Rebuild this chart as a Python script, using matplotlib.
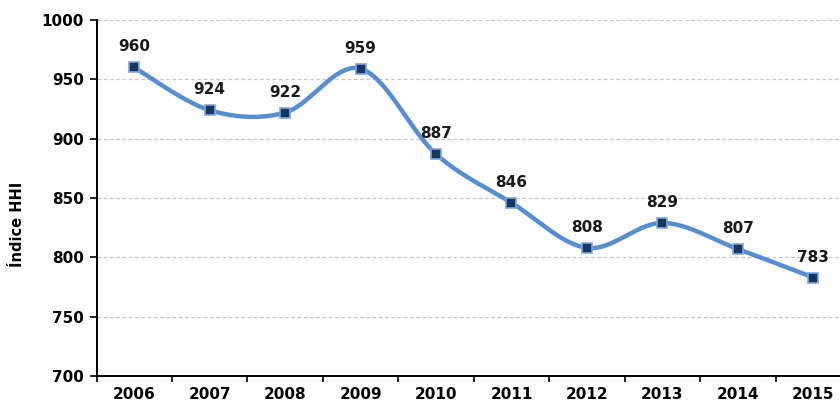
import numpy as np
import matplotlib
matplotlib.use("Agg")
import matplotlib.pyplot as plt
from matplotlib.ticker import FixedLocator, NullFormatter

years = ["2006", "2007", "2008", "2009", "2010", "2011", "2012", "2013", "2014", "2015"]
hhi = [960, 924, 922, 959, 887, 846, 808, 829, 807, 783]
ylabel = "Índice HHI"

def excel_smooth(x, y, n=40):
    x = np.asarray(x, float); y = np.asarray(y, float)
    xs, ys = [], []
    for i in range(len(x) - 1):
        p0 = (x[i-1], y[i-1]) if i > 0 else (x[i], y[i])
        p1 = (x[i], y[i]); p2 = (x[i+1], y[i+1])
        p3 = (x[i+2], y[i+2]) if i + 2 < len(x) else (x[i+1], y[i+1])
        c1 = (p1[0] + (p2[0]-p0[0])/6, p1[1] + (p2[1]-p0[1])/6)
        c2 = (p2[0] - (p3[0]-p1[0])/6, p2[1] - (p3[1]-p1[1])/6)
        t = np.linspace(0, 1, n)
        bx = (1-t)**3*p1[0] + 3*(1-t)**2*t*c1[0] + 3*(1-t)*t**2*c2[0] + t**3*p2[0]
        by = (1-t)**3*p1[1] + 3*(1-t)**2*t*c1[1] + 3*(1-t)*t**2*c2[1] + t**3*p2[1]
        xs.extend(bx); ys.extend(by)
    return np.array(xs), np.array(ys)

fig = plt.figure(figsize=(8.4, 4.04), dpi=100)
W, H = 840, 404
ax = fig.add_axes([96.5/W, 1 - 376/H, (851 - 96.5)/W, (376 - 20)/H])

x = np.arange(len(years))
sx, sy = excel_smooth(x, hhi)
ax.plot(sx, sy, color="#558ED5", lw=3.2, solid_capstyle="round", zorder=3)
ax.plot(x, hhi, ls="none", marker="s", ms=7, mfc="#17375E", mec="#7DA7E0", mew=1.2, zorder=4)

for xi, v in zip(x, hhi):
    ax.annotate(str(v), (xi, v), xytext=(0, 11.5), textcoords="offset points",
                ha="center", va="baseline", fontsize=11, fontweight="bold", color="#1a1a1a")

ax.set_xlim(-0.5, len(years) - 0.5)
ax.set_ylim(700, 1000)
ax.set_yticks(np.arange(700, 1001, 50))
ax.set_xticks(x)
ax.set_xticklabels(years)
ax.xaxis.set_minor_locator(FixedLocator(np.arange(-0.5, len(years), 1)))
ax.xaxis.set_minor_formatter(NullFormatter())
ax.tick_params(axis="x", which="major", length=0, pad=8)
ax.tick_params(axis="x", which="minor", length=4, width=1.2, direction="out")
ax.tick_params(axis="y", length=5, width=1.2, direction="out", pad=4)
for lab in ax.get_xticklabels() + ax.get_yticklabels():
    lab.set_fontsize(11); lab.set_fontweight("bold")

ax.grid(axis="y", ls=(0, (3, 2)), color="#C8C8C8", lw=0.9)
ax.set_axisbelow(True)
for s in ["top", "right"]:
    ax.spines[s].set_visible(False)
for s in ["left", "bottom"]:
    ax.spines[s].set_linewidth(1.4)

fig.text(18/W, 1 - 224/H, ylabel, rotation=90, ha="center", va="center",
         fontsize=10.5, fontweight="bold")

fig.savefig("out.png", dpi=100)
